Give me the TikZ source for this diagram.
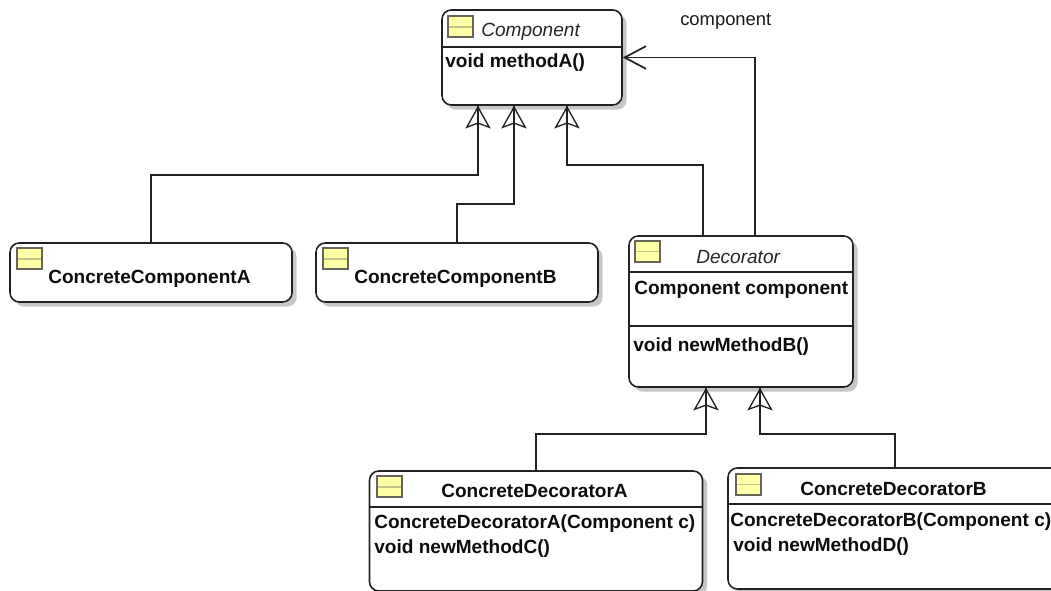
\documentclass[tikz,border=0pt]{standalone}
\usepackage{fontspec}
\setmainfont{Liberation Sans}
\usepackage{xcolor}
\usepackage{tikz}
\usetikzlibrary{arrows.meta,shadows}

\definecolor{iconyellow}{HTML}{FFFFA6}
\definecolor{iconborder}{HTML}{666658}
\definecolor{iconmark}{HTML}{C4C48A}
\definecolor{boxline}{HTML}{222222}
\def\px{0.75pt}

\tikzset{
    classbox/.style={draw=boxline, fill=white, line width=1.2pt, rounded corners=7pt, inner sep=0pt,
        drop shadow={shadow xshift=3.5pt, shadow yshift=-3.5pt, opacity=0.22, fill=black}},
    sepline/.style={draw=boxline, line width=0.9pt},
    classicon/.style={draw=iconborder, fill=iconyellow, line width=1.5pt, inner sep=0pt,
        minimum width=25*\px, minimum height=21*\px,
        path picture={\draw [iconmark, line width=0.8pt] (path picture bounding box.west) -- (path picture bounding box.east);}},
    boldtext/.style={anchor=base west, inner sep=0pt, font=\fontsize{14.3}{17}\selectfont\bfseries, text=black!95},
    italictext/.style={anchor=base west, inner sep=0pt, font=\fontsize{14.3}{17}\selectfont\itshape, text=black!85},
    plaintext/.style={anchor=base west, inner sep=0pt, font=\fontsize{13.8}{17}\selectfont, text=black!90},
    connector/.style={draw=boxline, line width=1.3pt},
    inherits/.style={connector, postaction={draw, line width=1pt, -{Stealth[open, length=17pt, width=19pt, inset=3.5pt]}}},
    uses/.style={connector, -{Straight Barb[length=16pt, width=17pt]}}
}

\begin{document}
\begin{tikzpicture}[x=\px, y=-\px]
    \clip (0,0) rectangle (1051,591);

    % class boxes
    \node [classbox, minimum width=180*\px, minimum height=95*\px] (component) at (532,57.5) {};
    \node [classbox, minimum width=282*\px, minimum height=59*\px] (concreteA) at (151,272.5) {};
    \node [classbox, minimum width=282*\px, minimum height=59*\px] (concreteB) at (457,272.5) {};
    \node [classbox, minimum width=224*\px, minimum height=151*\px] (decorator) at (741,311.5) {};
    \node [classbox, minimum width=333*\px, minimum height=120*\px] (decoratorA) at (536,531) {};
    \node [classbox, minimum width=334*\px, minimum height=121*\px] (decoratorB) at (895,528.5) {};

    % compartments
    \draw [sepline] (component.west |- 0,47) -- (component.east |- 0,47);
    \draw [sepline] (decorator.west |- 0,272) -- (decorator.east |- 0,272);
    \draw [sepline] (decorator.west |- 0,326) -- (decorator.east |- 0,326);
    \draw [sepline] (decoratorA.west |- 0,507) -- (decoratorA.east |- 0,507);
    \draw [sepline] (decoratorB.west |- 0,504) -- (decoratorB.east |- 0,504);

    \node [classicon] (iconC) at (460,27) {};
    \node [classicon] (iconCA) at (29,259) {};
    \node [classicon] (iconCB) at (335,259) {};
    \node [classicon] (iconD) at (647,251.5) {};
    \node [classicon] (iconDA) at (389,487) {};
    \node [classicon] (iconDB) at (748,484.5) {};

    % labels
    \node [italictext] (nameC) at (481,37) {Component};
    \node [boldtext] (methodC) at (445,68) {void methodA()};
    \node [boldtext] (nameCA) at (48,284) {ConcreteComponentA};
    \node [boldtext] (nameCB) at (354,284) {ConcreteComponentB};
    \node [italictext] (nameD) at (696,264) {Decorator};
    \node [boldtext] (fieldD) at (634,295) {Component component};
    \node [boldtext] (methodD) at (633,352) {void newMethodB()};
    \node [boldtext] (nameDA) at (441,498) {ConcreteDecoratorA};
    \node [boldtext] (ctorDA) at (374,529) {ConcreteDecoratorA(Component c)};
    \node [boldtext] (methodDA) at (374,554) {void newMethodC()};
    \node [boldtext] (nameDB) at (800,496) {ConcreteDecoratorB};
    \node [boldtext] (ctorDB) at (730,527) {ConcreteDecoratorB(Component c)};
    \node [boldtext] (methodDB) at (733,552) {void newMethodD()};
    \node [plaintext] (role) at (680,26) {component};

    % connectors
    \coordinate (bendCA) at (478,175);
    \coordinate (bendCB) at (514,204);
    \coordinate (bendD) at (567,165);
    \coordinate (startD) at (703,0);
    \coordinate (assocD) at (755,0);
    \coordinate (bendDA) at (706,434);
    \coordinate (bendDB) at (760,434);

    \draw [inherits] (concreteA.north) |- (bendCA) -- (bendCA |- component.south);
    \draw [inherits] (concreteB.north) |- (bendCB) -- (bendCB |- component.south);
    \draw [inherits] (startD |- decorator.north) |- (bendD) -- (bendD |- component.south);
    \draw [uses] (assocD |- decorator.north) |- (component.east);
    \draw [inherits] (decoratorA.north) |- (bendDA) -- (bendDA |- decorator.south);
    \draw [inherits] (decoratorB.north) |- (bendDB) -- (bendDB |- decorator.south);
\end{tikzpicture}
\end{document}
